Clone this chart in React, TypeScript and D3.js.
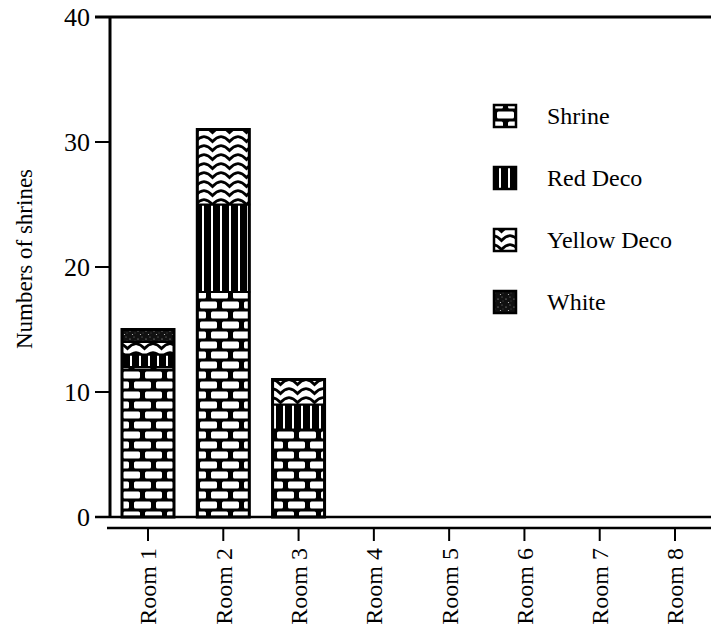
import React from "react";
import * as d3 from "d3";

const rooms = ["Room 1", "Room 2", "Room 3", "Room 4", "Room 5", "Room 6", "Room 7", "Room 8"];
const seriesNames = ["Shrine", "Red Deco", "Yellow Deco", "White"];
const shrine = [12, 18, 7, 0, 0, 0, 0, 0];
const redDeco = [1, 7, 2, 0, 0, 0, 0, 0];
const yellowDeco = [1, 6, 2, 0, 0, 0, 0, 0];
const white = [1, 0, 0, 0, 0, 0, 0, 0];
const yTicks = [0, 10, 20, 30, 40];
const yTitle = "Numbers of shrines";

const W = 711;
const H = 630;
const FONT = "'Liberation Serif', 'Times New Roman', serif";

const patternIds = ["pBrick", "pStripe", "pWave", "pStipple"];

export default function App() {
  const y = d3.scaleLinear().domain([0, 40]).range([517, 17]);
  const x = d3.scalePoint<string>().domain(rooms).range([148, 675]);
  const barW = 52;
  const axisX = 110;

  const table = rooms.map((r, i) => ({
    room: r,
    Shrine: shrine[i],
    "Red Deco": redDeco[i],
    "Yellow Deco": yellowDeco[i],
    White: white[i],
  }));
  const stacked = d3.stack<any>().keys(seriesNames)(table);

  const legendY = d3.scalePoint<string>().domain(seriesNames).range([116, 302]);

  return (
    <svg width={W} height={H} style={{ position: "absolute", left: 0, top: 0, background: "#fff" }} fontFamily={FONT}>
      <defs>
        <pattern id="pBrick" patternUnits="userSpaceOnUse" width={22} height={20}>
          <rect width={22} height={20} fill="#000" />
          <rect x={2} y={1.5} width={17} height={7} rx={1.5} fill="#fff" />
          <rect x={13} y={11.5} width={17} height={7} rx={1.5} fill="#fff" />
          <rect x={-9} y={11.5} width={17} height={7} rx={1.5} fill="#fff" />
        </pattern>
        <pattern id="pStripe" patternUnits="userSpaceOnUse" width={9} height={10}>
          <rect width={9} height={10} fill="#000" />
          <rect x={4} y={0} width={2} height={10} fill="#fff" />
        </pattern>
        <pattern id="pWave" patternUnits="userSpaceOnUse" width={17} height={9}>
          <rect width={17} height={9} fill="#fff" />
          <path d="M-1,1.5 Q4,1.5 8.5,6.5 Q13,1.5 18,1.5" stroke="#000" strokeWidth={2.8} fill="none" />
        </pattern>
        <pattern id="pStipple" patternUnits="userSpaceOnUse" width={8} height={8}>
          <rect width={8} height={8} fill="#111" />
          <circle cx={2} cy={3} r={0.6} fill="#bbb" />
          <circle cx={6} cy={1} r={0.5} fill="#999" />
          <circle cx={4.5} cy={6.5} r={0.6} fill="#ccc" />
          <circle cx={7} cy={5} r={0.4} fill="#888" />
        </pattern>
      </defs>

      {/* bars */}
      {stacked.map((s, si) => (
        <g key={s.key}>
          {s.map((d, i) =>
            d[1] - d[0] > 0 ? (
              <rect
                key={i}
                x={(x(rooms[i]) as number) - barW / 2}
                y={y(d[1])}
                width={barW}
                height={y(d[0]) - y(d[1])}
                fill={`url(#${patternIds[si]})`}
                stroke="#000"
                strokeWidth={2}
              />
            ) : null
          )}
        </g>
      ))}
      {rooms.map((r, i) => {
        const total = shrine[i] + redDeco[i] + yellowDeco[i] + white[i];
        return total > 0 ? (
          <rect
            key={r}
            x={(x(r) as number) - barW / 2}
            y={y(total)}
            width={barW}
            height={y(0) - y(total)}
            fill="none"
            stroke="#000"
            strokeWidth={3}
          />
        ) : null;
      })}

      {/* frame lines */}
      <line x1={95} x2={W} y1={y(40)} y2={y(40)} stroke="#000" strokeWidth={3} />
      <line x1={axisX} x2={axisX} y1={y(40)} y2={y(0)} stroke="#000" strokeWidth={3} />
      <line x1={95} x2={W} y1={y(0)} y2={y(0)} stroke="#000" strokeWidth={2.5} />
      <line x1={107} x2={W} y1={528} y2={528} stroke="#000" strokeWidth={2.5} />

      {/* y ticks */}
      {yTicks.map((t) => (
        <g key={t}>
          <line x1={95} x2={axisX} y1={y(t)} y2={y(t)} stroke="#000" strokeWidth={2} />
          <text x={90} y={y(t)} dy="0.35em" textAnchor="end" fontSize={26} fill="#000">
            {t}
          </text>
        </g>
      ))}
      <text
        transform={`translate(24,${(y(0) + y(40)) / 2 - 8}) rotate(-90)`}
        textAnchor="middle"
        dy="0.35em"
        fontSize={23}
        fill="#000"
      >
        {yTitle}
      </text>

      {/* x ticks */}
      {rooms.map((r) => (
        <g key={r} transform={`translate(${x(r)},0)`}>
          <line x1={0} x2={0} y1={528} y2={541} stroke="#000" strokeWidth={2} />
          <text transform="translate(0,548) rotate(-90)" textAnchor="end" dy="0.35em" fontSize={24} fill="#000">
            {r}
          </text>
        </g>
      ))}

      {/* legend */}
      {seriesNames.map((n, i) => {
        const cy = legendY(n) as number;
        return (
          <g key={n}>
            <rect x={494} y={cy - 11} width={22} height={22} fill={`url(#${patternIds[i]})`} stroke="#000" strokeWidth={2.5} />
            <text x={547} y={cy} dy="0.35em" fontSize={24} fill="#000">
              {n}
            </text>
          </g>
        );
      })}
    </svg>
  );
}
